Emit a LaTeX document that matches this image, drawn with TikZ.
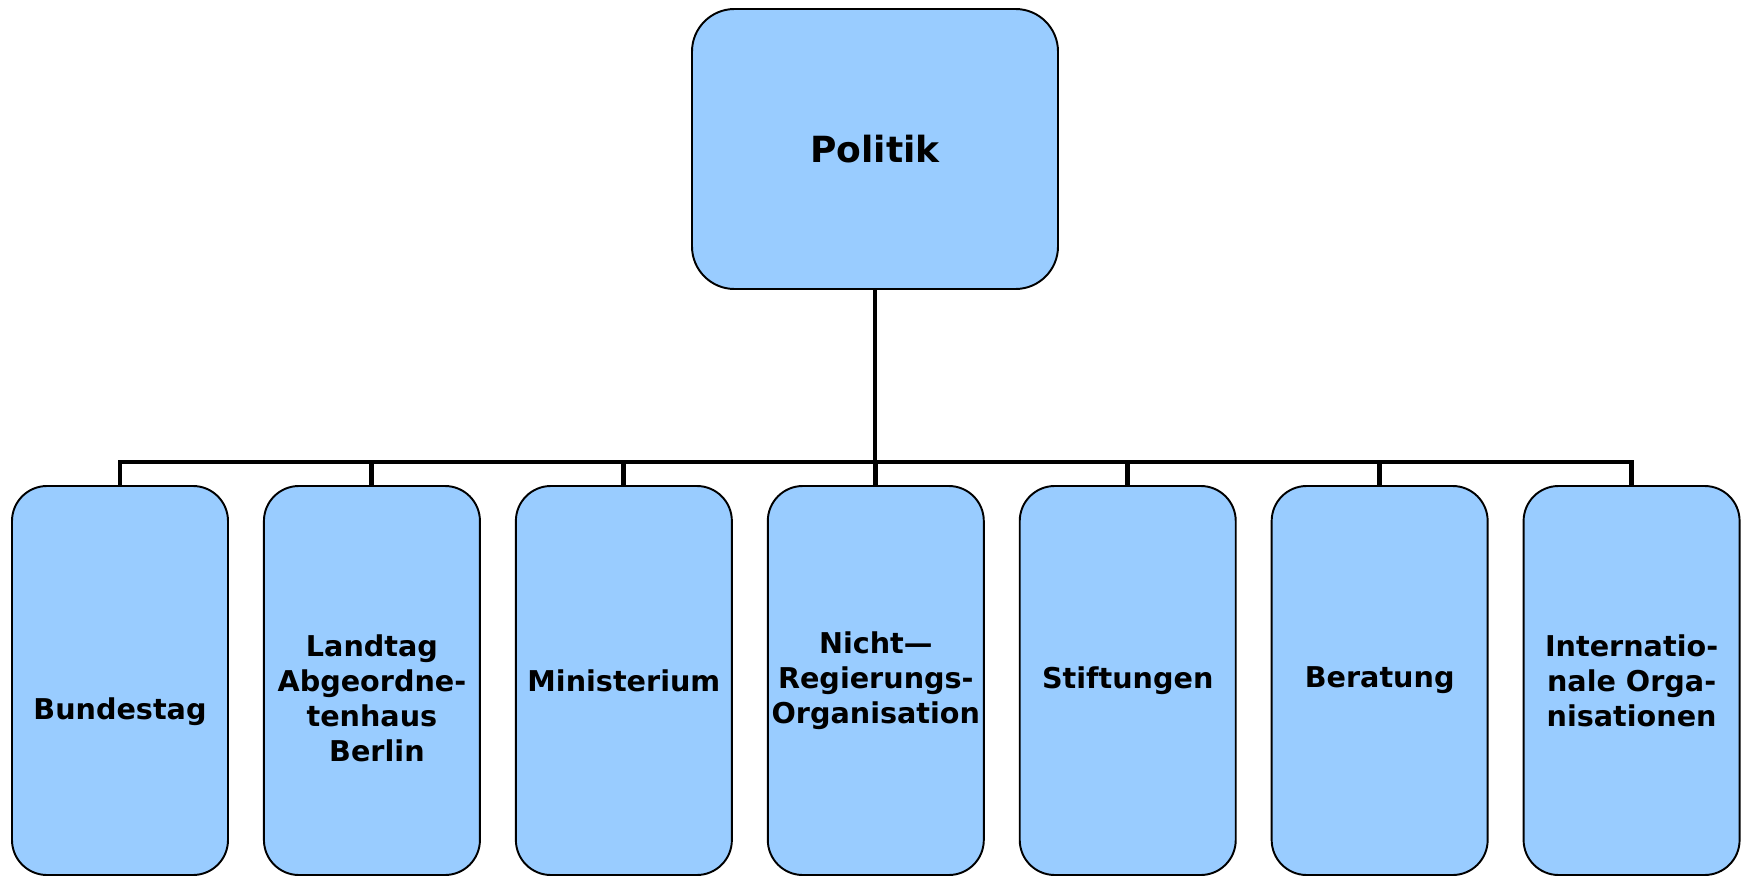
\documentclass[tikz,border=0pt]{standalone}
\usepackage{fontspec}
\setmainfont{DejaVu Sans}
\usetikzlibrary{positioning}
\definecolor{boxblue}{RGB}{153,204,255}
\begin{document}
\begin{tikzpicture}[line join=miter,
		box/.style={draw=black,line width=1.1pt,fill=boxblue,rounded corners=0.7cm,
			minimum width=4.32cm,minimum height=7.78cm,inner sep=0pt,align=center,
			font=\bfseries\fontsize{16.3}{19.9}\selectfont},
		topbox/.style={box,rounded corners=0.85cm,minimum width=7.32cm,minimum height=5.6cm,
			font=\bfseries\fontsize{20.5}{24}\selectfont},
		lbl/.style={align=center,inner sep=0pt,font=\bfseries\fontsize{16.3}{19.9}\selectfont},
		conn/.style={line width=2.8pt}]
	\useasboundingbox (0,0) rectangle (34.92,-17.52);
	\def\gap{0.68cm}
	% top
	\node[topbox] (politik) at (17.5,-2.98) {Politik};
	% children
	\node[box,label={[lbl,yshift=-0.63cm]center:Bundestag}] (bundestag) at (2.4,-13.61) {};
	\node[box,right=\gap of bundestag,label={[lbl,yshift=-0.35cm]center:Landtag\\Abgeordne-\\tenhaus\\\hspace{0.35em}Berlin}] (landtag) {};
	\node[box,right=\gap of landtag] (ministerium) {Ministerium};
	\node[box,right=\gap of ministerium] (ngo) {Nicht—\\Regierungs-\\Organisation};
	\node[box,right=\gap of ngo] (stiftungen) {Stiftungen};
	\node[box,right=\gap of stiftungen] (beratung) {Beratung};
	\node[box,right=\gap of beratung] (intorg) {Internatio-\\nale Orga-\\nisationen};
	% connectors
	\coordinate (bus) at (17.5,-9.24);
	\draw[conn] (politik.south) -- (bus);
	\foreach \n in {bundestag,landtag,ministerium,ngo,stiftungen,beratung,intorg}
		\draw[conn] (bus) -| (\n.north);
\end{tikzpicture}
\end{document}
